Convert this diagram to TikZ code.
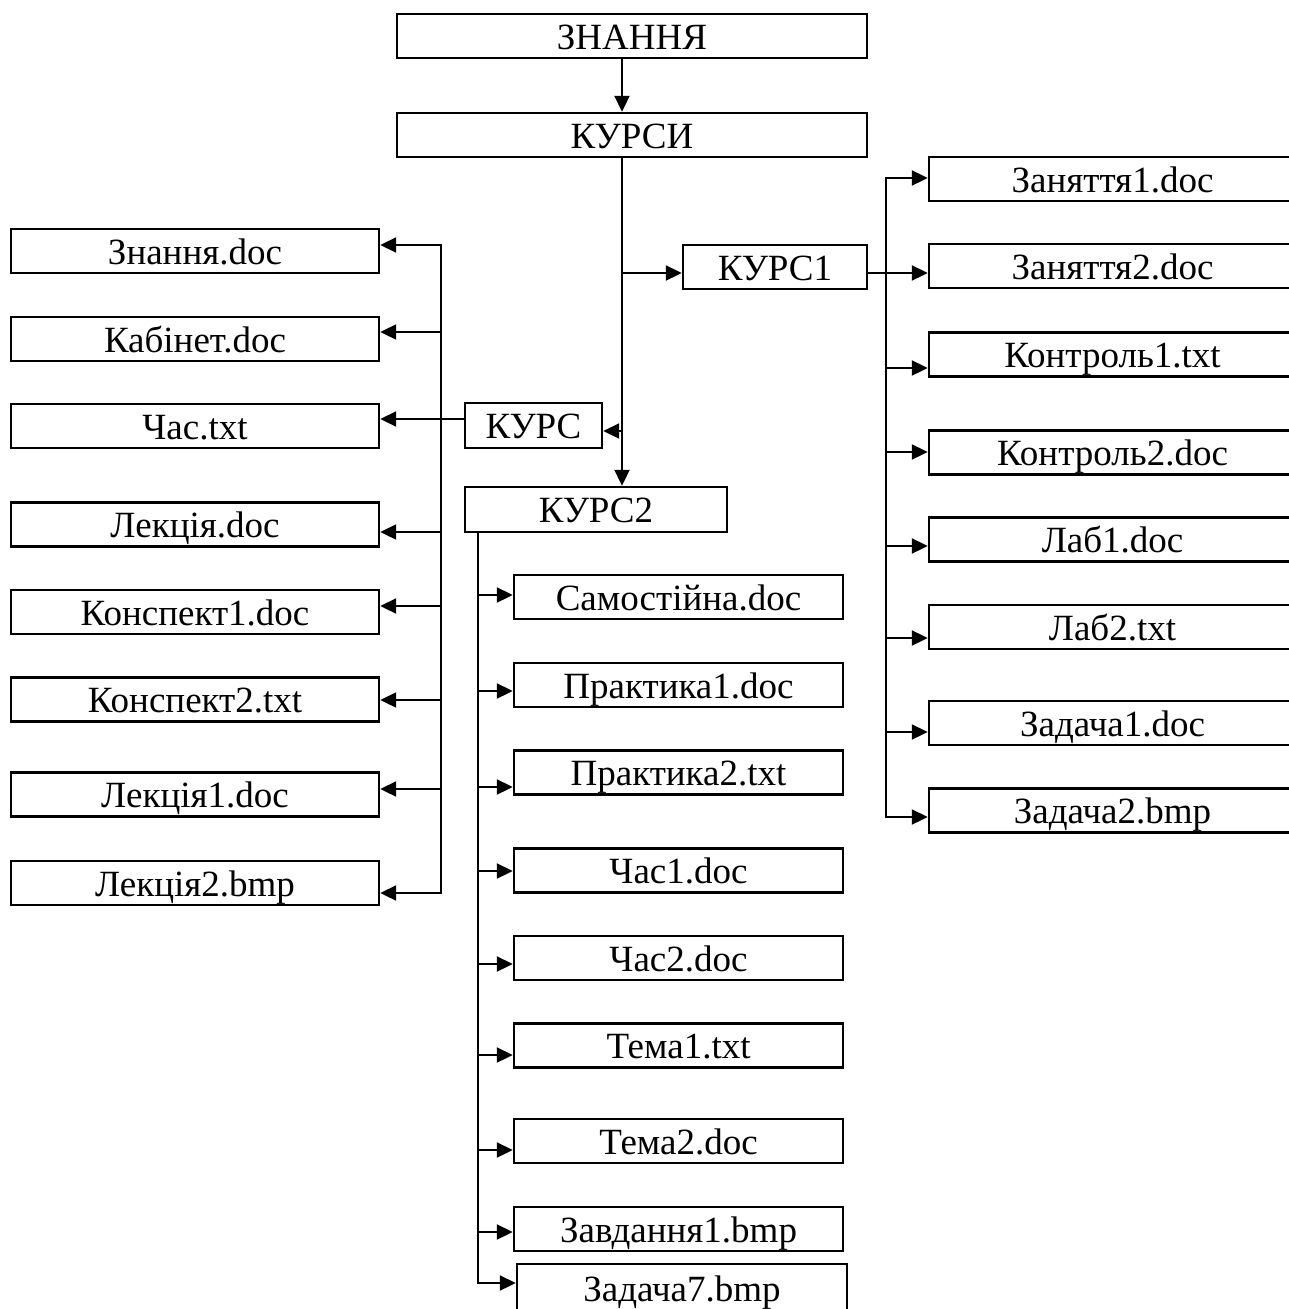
\documentclass[tikz,border=0pt]{standalone}
\usepackage{fontspec}
\setmainfont{Liberation Serif}
\usetikzlibrary{arrows.meta}
\begin{document}
\begin{tikzpicture}[x=1pt,y=-1pt,
  box/.style={draw,line width=2.4pt,inner sep=0pt,text height=30pt,text depth=4pt,
    font=\fontsize{37}{40}\selectfont,minimum height=44pt},
  lbox/.style={box,minimum width=368pt},
  rbox/.style={box,minimum width=367pt},
  mbox/.style={box,minimum width=329pt},
  ln/.style={line width=2pt,line cap=rect},
  arr/.style={line width=2pt,-{Triangle[length=16pt,width=15pt]}}]
\clip (0,0) rectangle (1289,1309);
% top
\node[box,minimum width=470pt] (zn) at (632,36) {ЗНАННЯ};
\node[box,minimum width=470pt] (kursy) at (632,135) {КУРСИ};
\node[box,minimum width=184pt] (kurs1) at (775,267) {КУРС1};
\node[box,minimum width=137pt,minimum height=45pt] (kurs) at (533.5,425.5) {КУРС};
\node[box,minimum width=262pt,minimum height=45pt] (kurs2) at (596,509.5) {КУРС2};
% right column
\node[rbox] (z1) at (1112.5,179) {Заняття1.doc};
\node[rbox] (z2) at (1112.5,266) {Заняття2.doc};
\node[rbox] (k1) at (1112.5,354.5) {Контроль1.txt};
\node[rbox] (k2) at (1112.5,452.5) {Контроль2.doc};
\node[rbox] (l1) at (1112.5,539.5) {Лаб1.doc};
\node[rbox] (l2) at (1112.5,627) {Лаб2.txt};
\node[rbox] (zd1) at (1112.5,723) {Задача1.doc};
\node[rbox] (zd2) at (1112.5,810.5) {Задача2.bmp};
% left column
\node[lbox] (znd) at (195,251) {Знання.doc};
\node[lbox] (kab) at (195,339) {Кабінет.doc};
\node[lbox] (chas) at (195,426) {Час.txt};
\node[lbox] (lek) at (195,524.5) {Лекція.doc};
\node[lbox] (kon1) at (195,612) {Конспект1.doc};
\node[lbox] (kon2) at (195,699.5) {Конспект2.txt};
\node[lbox] (lek1) at (195,794.5) {Лекція1.doc};
\node[lbox] (lek2) at (195,883) {Лекція2.bmp};
% middle column
\node[mbox] (sam) at (678.5,597) {Самостійна.doc};
\node[mbox] (pr1) at (678.5,685) {Практика1.doc};
\node[mbox] (pr2) at (678.5,772.5) {Практика2.txt};
\node[mbox] (ch1) at (678.5,870.5) {Час1.doc};
\node[mbox] (ch2) at (678.5,958) {Час2.doc};
\node[mbox] (t1) at (678.5,1045.5) {Тема1.txt};
\node[mbox] (t2) at (678.5,1141) {Тема2.doc};
\node[mbox] (zv1) at (678.5,1229) {Завдання1.bmp};
\node[box,minimum width=330pt,minimum height=48pt] (zd7) at (682,1288) {Задача7.bmp};
% trunk
\draw[arr] ([xshift=-10pt]zn.south) -- ([xshift=-10pt]kursy.north);
\draw[arr] ([xshift=-10pt]kursy.south) -- ([xshift=26pt]kurs2.north);
\coordinate (tk1) at (622,273);
\coordinate (tk2) at (622,431);
\draw[arr] (tk1) -- (kurs1.west |- tk1);
\draw[arr] (tk2) -- (kurs.east |- tk2);
\draw[arr] (kurs1.east |- tk1) -- (z2.west |- tk1);
% right bus
\coordinate (rb1) at (886,178);
\coordinate (rb3) at (886,368);
\coordinate (rb4) at (886,452);
\coordinate (rb5) at (886,546);
\coordinate (rb6) at (886,638);
\coordinate (rb7) at (886,732);
\coordinate (rb8) at (886,817);
\draw[ln] (rb1) -- (rb8);
\draw[arr] (rb1) -- (z1.west |- rb1);
\draw[arr] (rb3) -- (k1.west |- rb3);
\draw[arr] (rb4) -- (k2.west |- rb4);
\draw[arr] (rb5) -- (l1.west |- rb5);
\draw[arr] (rb6) -- (l2.west |- rb6);
\draw[arr] (rb7) -- (zd1.west |- rb7);
\draw[arr] (rb8) -- (zd2.west |- rb8);
% left bus
\coordinate (lb1) at (441,245);
\coordinate (lb2) at (441,332);
\coordinate (lb4) at (441,532);
\coordinate (lb5) at (441,606);
\coordinate (lb6) at (441,700);
\coordinate (lb7) at (441,789);
\coordinate (lb8) at (441,893);
\coordinate (kc) at (441,419);
\draw[ln] (lb1) -- (lb8);
\draw[arr] (lb1) -- (znd.east |- lb1);
\draw[arr] (lb2) -- (kab.east |- lb2);
\draw[arr] (kurs.west |- kc) -- (chas.east |- kc);
\draw[arr] (lb4) -- (lek.east |- lb4);
\draw[arr] (lb5) -- (kon1.east |- lb5);
\draw[arr] (lb6) -- (kon2.east |- lb6);
\draw[arr] (lb7) -- (lek1.east |- lb7);
\draw[arr] (lb8) -- (lek2.east |- lb8);
% middle bus
\coordinate (mb1) at (478,595);
\coordinate (mb2) at (478,691);
\coordinate (mb3) at (478,787);
\coordinate (mb4) at (478,871);
\coordinate (mb5) at (478,964);
\coordinate (mb6) at (478,1055);
\coordinate (mb7) at (478,1150);
\coordinate (mb8) at (478,1232);
\coordinate (mb9) at (478,1283);
\draw[ln] (kurs2.south -| mb1) -- (mb9);
\draw[arr] (mb1) -- (sam.west |- mb1);
\draw[arr] (mb2) -- (pr1.west |- mb2);
\draw[arr] (mb3) -- (pr2.west |- mb3);
\draw[arr] (mb4) -- (ch1.west |- mb4);
\draw[arr] (mb5) -- (ch2.west |- mb5);
\draw[arr] (mb6) -- (t1.west |- mb6);
\draw[arr] (mb7) -- (t2.west |- mb7);
\draw[arr] (mb8) -- (zv1.west |- mb8);
\draw[arr] (mb9) -- (zd7.west |- mb9);
\end{tikzpicture}
\end{document}
